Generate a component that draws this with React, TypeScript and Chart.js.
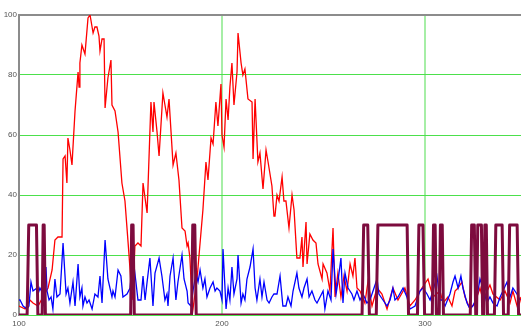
import React, { useEffect, useRef } from "react";
import { Chart, registerables } from "chart.js";

Chart.register(...registerables);

const xTicks = [100, 200, 300];
const yTicks = [0, 20, 40, 60, 80, 100];

const redX = [100.0, 103.0, 105.4, 106.9, 109.4, 111.8, 114.3, 116.3, 117.7, 119.2, 121.2, 121.7, 122.7, 123.6, 124.1, 125.1, 126.1, 127.6, 129.1, 129.6, 130.0, 131.0, 132.0, 132.5, 134.0, 135.0, 136.5, 137.4, 138.4, 139.4, 139.9, 140.9, 141.9, 142.4, 143.8, 145.3, 145.8, 147.3, 148.8, 150.7, 152.2, 154.2, 155.7, 156.2, 157.1, 158.6, 160.1, 161.1, 163.1, 165.0, 166.0, 166.5, 168.0, 169.0, 170.9, 171.9, 172.9, 173.9, 175.9, 177.3, 178.8, 180.3, 181.8, 182.8, 183.3, 184.2, 185.2, 185.7, 187.7, 189.2, 190.6, 192.1, 193.1, 194.6, 195.6, 197.0, 198.0, 199.5, 200.0, 201.0, 202.0, 203.0, 203.9, 204.9, 205.9, 207.4, 207.9, 209.4, 210.3, 211.3, 212.8, 214.8, 215.3, 216.3, 217.7, 218.7, 220.2, 221.7, 222.7, 224.6, 225.6, 226.1, 227.1, 228.1, 229.6, 230.5, 231.5, 233.0, 234.5, 235.5, 236.9, 238.4, 239.4, 239.9, 241.4, 241.9, 243.3, 244.8, 246.3, 247.3, 249.3, 249.8, 251.7, 253.2, 254.7, 255.7, 257.1, 258.6, 260.1, 261.6, 263.1, 264.5, 265.5, 266.5, 268.0, 270.4, 271.9, 273.9, 276.4, 278.8, 281.3, 284.2, 286.7, 290.1, 292.6, 295.1, 298.5, 301.5, 303.9, 307.4, 308.9, 311.3, 313.3, 314.8, 316.3, 318.2, 319.7, 322.2, 324.6, 327.1, 328.6, 332.0, 333.5, 337.0, 339.4, 341.9, 343.3, 345.8, 347.3];
const redY = [3, 2, 5, 4, 3, 6, 9, 15, 25, 26, 26, 52, 53, 44, 59, 55, 50, 68, 81, 76, 84, 90, 88, 87, 99, 100, 94, 96, 96, 93, 88, 92, 92, 69, 79, 85, 70, 68, 61, 44, 38, 20, 5, 8, 23, 24, 23, 44, 34, 71, 61, 71, 61, 53, 74, 70, 66, 72, 50, 54, 45, 29, 28, 23, 24, 19, 5, 2, 12, 24, 35, 51, 45, 59, 57, 71, 63, 77, 60, 56, 72, 65, 76, 84, 70, 81, 94, 84, 80, 82, 72, 71, 52, 72, 51, 54, 42, 55, 51, 43, 33, 33, 40, 38, 46, 38, 38, 29, 40, 35, 19, 19, 26, 16, 31, 17, 27, 25, 24, 17, 12, 17, 14, 8, 29, 6, 14, 6, 13, 8, 17, 13, 19, 9, 8, 4, 11, 3, 9, 7, 2, 9, 5, 9, 3, 5, 9, 12, 6, 8, 4, 6, 3, 8, 9, 11, 6, 2, 4, 9, 5, 10, 7, 5, 8, 4, 8, 2, 6];

const blueX = [100.0, 100.5, 102.0, 103.9, 104.9, 105.9, 106.9, 108.9, 109.4, 110.3, 111.8, 113.3, 113.8, 114.8, 115.8, 116.7, 117.7, 118.7, 120.2, 121.7, 123.2, 124.1, 125.1, 126.6, 127.6, 129.1, 130.0, 131.0, 131.5, 132.5, 133.5, 134.5, 136.0, 137.4, 138.9, 139.9, 140.9, 142.4, 143.8, 145.8, 146.3, 147.3, 148.8, 150.2, 151.2, 153.2, 154.7, 156.2, 157.6, 158.6, 160.1, 161.1, 162.1, 163.1, 164.5, 166.0, 167.0, 169.0, 170.4, 171.9, 172.9, 173.4, 174.4, 175.9, 177.3, 178.3, 180.3, 181.3, 182.8, 183.3, 184.7, 185.7, 187.2, 188.2, 189.2, 190.6, 191.6, 192.6, 194.1, 195.6, 196.6, 197.5, 199.0, 200.0, 200.5, 202.0, 203.0, 203.9, 204.9, 205.9, 207.4, 207.9, 209.4, 210.3, 211.3, 212.3, 213.8, 215.3, 216.3, 217.2, 218.7, 219.7, 220.7, 222.2, 223.2, 224.6, 225.6, 227.1, 228.6, 230.0, 231.5, 232.5, 234.0, 235.0, 236.9, 237.9, 239.4, 240.4, 241.9, 242.9, 244.3, 245.8, 246.8, 248.3, 249.8, 250.7, 252.2, 253.7, 254.7, 256.2, 257.1, 258.6, 259.6, 260.6, 262.1, 264.0, 265.0, 266.5, 268.0, 269.5, 271.4, 272.9, 274.4, 276.4, 277.3, 279.3, 281.3, 282.8, 284.2, 285.2, 286.7, 289.2, 291.1, 292.6, 295.1, 297.5, 299.0, 301.0, 302.5, 303.9, 305.9, 307.4, 308.4, 309.9, 312.3, 313.8, 314.8, 316.3, 317.7, 318.7, 320.7, 322.2, 323.6, 325.6, 327.1, 328.6, 330.5, 332.0, 333.5, 335.5, 337.0, 338.4, 340.4, 341.9, 343.3, 345.3, 346.8];
const blueY = [5, 5, 3, 2, 3, 11, 8, 9, 7, 9, 7, 16, 8, 5, 6, 2, 12, 6, 7, 24, 7, 9, 4, 11, 3, 17, 6, 9, 3, 6, 4, 5, 2, 7, 6, 13, 4, 25, 12, 6, 8, 6, 15, 13, 6, 7, 9, 19, 11, 5, 5, 13, 5, 11, 19, 3, 14, 19, 13, 5, 7, 3, 13, 19, 5, 11, 20, 12, 8, 4, 3, 8, 14, 11, 15, 9, 12, 6, 9, 11, 8, 9, 8, 5, 22, 2, 9, 5, 16, 7, 12, 20, 4, 7, 5, 12, 16, 22, 9, 5, 12, 6, 11, 5, 4, 6, 7, 7, 13, 3, 3, 6, 3, 8, 14, 9, 6, 9, 12, 6, 8, 5, 4, 6, 8, 2, 8, 5, 22, 7, 11, 19, 4, 14, 9, 7, 5, 8, 5, 7, 4, 5, 8, 12, 7, 5, 3, 5, 9, 5, 6, 9, 6, 2, 3, 8, 9, 7, 5, 8, 13, 5, 5, 3, 7, 11, 13, 9, 13, 9, 4, 2, 3, 6, 12, 9, 4, 6, 4, 3, 6, 8, 11, 6, 9, 7, 5];

const maroonX = [100, 104, 104.8, 108.6, 109.3, 111.4, 111.9, 112.4, 113, 155, 155.5, 156.2, 156.8, 185, 185.6, 186.6, 187.3, 269, 269.8, 271.8, 272.6, 276, 276.8, 291.2, 291.9, 296.3, 297, 299, 299.8, 303.6, 304.2, 305, 305.6, 307, 307.6, 308.5, 309.1, 322.3, 323, 324.3, 325, 325.4, 326, 327.8, 328.4, 329, 329.5, 330.2, 330.8, 334.2, 334.9, 338, 338.7, 341, 341.7, 345.4, 346.1, 347.3];
const maroonY = [0, 0, 30, 30, 0, 0, 30, 30, 0, 0, 30, 30, 0, 0, 30, 30, 0, 0, 30, 30, 0, 0, 30, 30, 0, 0, 30, 30, 0, 0, 30, 30, 0, 0, 30, 30, 0, 0, 30, 30, 0, 0, 30, 30, 0, 0, 30, 30, 0, 0, 30, 30, 0, 0, 30, 30, 0, 0];

const pts = (xs: number[], ys: number[]) => xs.map((x, i) => ({ x, y: ys[i] }));

export default function App() {
  const ref = useRef<HTMLCanvasElement>(null);
  useEffect(() => {
    if (!ref.current) return;
    const tickFont = { family: "'Liberation Sans', Arial, sans-serif", size: 8 };
    const chart = new Chart(ref.current, {
      type: "line",
      data: {
        datasets: [
          {
            data: pts(maroonX, maroonY),
            borderColor: "#7d0b3e",
            borderWidth: 3,
            borderJoinStyle: "round",
            borderCapStyle: "round",
            pointRadius: 0,
            tension: 0,
          },
          {
            data: pts(blueX, blueY),
            borderColor: "#0000ff",
            borderWidth: 1.3,
            pointRadius: 0,
            tension: 0,
          },
          {
            data: pts(redX, redY),
            borderColor: "#ff0000",
            borderWidth: 1.3,
            pointRadius: 0,
            tension: 0,
          },
        ],
      },
      options: {
        animation: false,
        responsive: false,
        devicePixelRatio: 1,
        layout: { padding: { top: 15, left: 0, right: 0, bottom: 0 } },
        plugins: { legend: { display: false }, tooltip: { enabled: false } },
        scales: {
          x: {
            type: "linear",
            min: 100,
            max: 347.3,
            afterBuildTicks: (a: any) => {
              a.ticks = xTicks.map((v) => ({ value: v }));
            },
            afterFit: (s: any) => {
              s.height = 12;
            },
            grid: {
              color: (c: any) => (c.tick && c.tick.value === 100 ? "rgba(0,0,0,0)" : "#a6eea6"),
              lineWidth: 2,
              drawTicks: false,
            },
            border: { display: false },
            ticks: { padding: 4, maxRotation: 0, color: "#555", font: tickFont },
          },
          y: {
            min: 0,
            max: 100,
            afterBuildTicks: (a: any) => {
              a.ticks = yTicks.map((v) => ({ value: v }));
            },
            afterFit: (s: any) => {
              s.width = 19;
            },
            grid: {
              color: (c: any) => (c.tick && c.tick.value === 100 ? "#8c8c8c" : "#4ce04c"),
              lineWidth: (c: any) => (c.tick && c.tick.value === 100 ? 2 : 1),
              drawTicks: false,
            },
            border: { color: "#8c8c8c", width: 2 },
            ticks: { padding: 2, color: "#555", font: tickFont },
          },
        },
      },
    } as any);
    return () => chart.destroy();
  }, []);
  return (
    <div style={{ position: "absolute", left: 0, top: 0, width: 521, height: 327, background: "#fff" }}>
      <canvas ref={ref} width={521} height={327} style={{ display: "block" }} />
    </div>
  );
}
